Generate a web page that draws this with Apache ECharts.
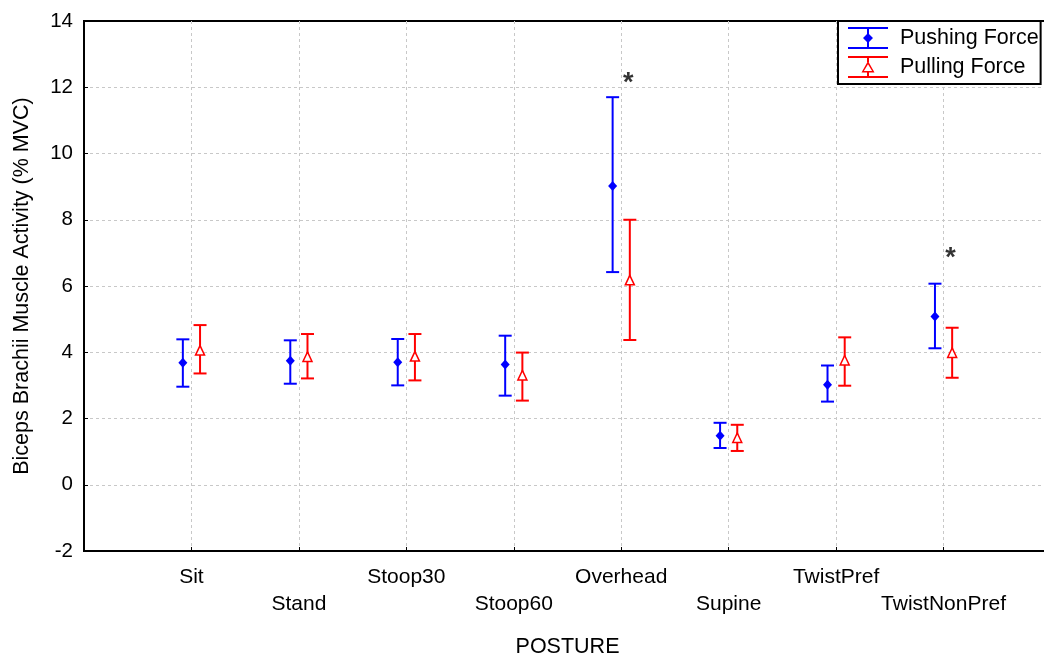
<!DOCTYPE html>
<html>
<head>
<meta charset="utf-8">
<script src="https://cdn.jsdelivr.net/npm/echarts@6/dist/echarts.min.js"></script>
<style>
  html, body { margin: 0; padding: 0; background: #fff; }
  #chart { width: 1044px; height: 656px; }
</style>
</head>
<body>
<div id="chart"></div>
<script>
  // postures along the x axis
  const categories = ['Sit', 'Stand', 'Stoop30', 'Stoop60', 'Overhead', 'Supine', 'TwistPref', 'TwistNonPref']
  // pushing force: mean and error bar ends (% MVC)
  const pushMean = [3.68, 3.74, 3.70, 3.63, 9.02, 1.48, 3.02, 5.08]
  const pushLow = [2.96, 3.05, 3.00, 2.69, 6.42, 1.11, 2.51, 4.12]
  const pushHigh = [4.39, 4.36, 4.40, 4.50, 11.70, 1.87, 3.60, 6.07]
  // pulling force
  const pullMean = [4.05, 3.86, 3.87, 3.30, 6.17, 1.41, 3.75, 3.98]
  const pullLow = [3.36, 3.21, 3.15, 2.54, 4.37, 1.02, 2.99, 3.23]
  const pullHigh = [4.82, 4.55, 4.55, 3.99, 8.00, 1.81, 4.45, 4.74]
  // significance marks
  const sigPosture = ['Overhead', 'TwistNonPref']
  const sigLevel = [12.3, 7.0]

  const FONT = "'Liberation Sans', Arial, sans-serif"

  function errorSeries (name, color, means, lows, highs, shift, marker) {
    return {
      name: name,
      type: 'custom',
      color: color,
      encode: { x: 0, y: [1, 2, 3] },
      data: categories.map((c, i) => [i + 1 + shift, lows[i], highs[i], means[i]]),
      renderItem: function (params, api) {
        var x = api.value(0)
        var lo = api.coord([x, api.value(1)])
        var hi = api.coord([x, api.value(2)])
        var m = api.coord([x, api.value(3)])
        var cap = 6.5
        var st = { stroke: color, lineWidth: 2 }
        var children = [
          { type: 'line', shape: { x1: lo[0], y1: lo[1], x2: hi[0], y2: hi[1] }, style: st },
          { type: 'line', shape: { x1: lo[0] - cap, y1: lo[1], x2: lo[0] + cap, y2: lo[1] }, style: st },
          { type: 'line', shape: { x1: hi[0] - cap, y1: hi[1], x2: hi[0] + cap, y2: hi[1] }, style: st }
        ]
        if (marker === 'diamond') {
          children.push({
            type: 'polygon',
            shape: { points: [[m[0], m[1] - 5], [m[0] + 4.5, m[1]], [m[0], m[1] + 5], [m[0] - 4.5, m[1]]] },
            style: { fill: color }
          })
        } else {
          children.push({
            type: 'polygon',
            shape: { points: [[m[0], m[1] - 5], [m[0] + 4.5, m[1] + 4.5], [m[0] - 4.5, m[1] + 4.5]] },
            style: { fill: '#fff', stroke: color, lineWidth: 1.5 }
          })
        }
        return { type: 'group', children: children }
      },
      z: 3
    }
  }

  var pushIcon = 'path://M0 0H40V2H0ZM0 20H40V22H0ZM19 0H21V22H19ZM20 6L25 11L20 16L15 11Z'
  var pullIcon = 'path://M0 0H40V2H0ZM0 20H40V22H0ZM19 0H21V6H19ZM19 16H21V22H19ZM20 5L26.5 16.5L13.5 16.5ZM20 8.2L15.9 15L24.1 15Z'

  var option = {
    animation: false,
    textStyle: { fontFamily: FONT },
    grid: {
      left: 84, top: 21, width: 967, height: 530,
      outerBoundsMode: 'none',
      containLabel: false,
      show: true, borderColor: '#000', borderWidth: 2
    },
    legend: {
      left: 838,
      top: 21,
      orient: 'vertical',
      itemWidth: 40,
      itemHeight: 22,
      itemGap: 7,
      padding: [6, 2, 6, 10],
      backgroundColor: '#fff',
      borderColor: '#000',
      borderWidth: 2,
      borderRadius: 0,
      textStyle: { fontSize: 21.5, color: '#000', fontFamily: FONT, padding: [0, 0, 0, 7] },
      data: [
        { name: 'Pushing Force', icon: pushIcon },
        { name: 'Pulling Force', icon: pullIcon }
      ]
    },
    xAxis: {
      type: 'value',
      min: 0,
      max: 9,
      interval: 1,
      name: 'POSTURE',
      nameLocation: 'middle',
      nameGap: 85,
      nameTextStyle: { fontSize: 21.5, color: '#000', fontFamily: FONT },
      axisLine: { onZero: false, lineStyle: { color: '#000', width: 2 } },
      axisTick: { inside: true, length: 4, lineStyle: { color: '#000' } },
      axisLabel: {
        fontSize: 21,
        color: '#000',
        fontFamily: FONT,
        lineHeight: 27,
        margin: 13,
        formatter: function (v) {
          var i = Math.round(v) - 1
          if (i < 0 || i >= categories.length) return ''
          return i % 2 === 0 ? categories[i] : '\n' + categories[i]
        }
      },
      splitLine: { show: true, showMinLine: false, lineStyle: { color: '#c8c8c8', type: [3, 3] } }
    },
    yAxis: {
      type: 'value',
      min: -2,
      max: 14,
      interval: 2,
      name: 'Biceps Brachii Muscle Activity (% MVC)',
      nameLocation: 'middle',
      nameGap: 51,
      nameTextStyle: { fontSize: 21.5, color: '#000', fontFamily: FONT },
      axisLine: { show: true, lineStyle: { color: '#000', width: 2 } },
      axisTick: { show: true, inside: true, length: 4, lineStyle: { color: '#000' } },
      axisLabel: { fontSize: 20.5, color: '#000', fontFamily: FONT, margin: 11 },
      splitLine: { show: true, showMinLine: false, showMaxLine: false, lineStyle: { color: '#c8c8c8', type: [3, 3] } }
    },
    series: [
      errorSeries('Pushing Force', '#0000ff', pushMean, pushLow, pushHigh, -0.08, 'diamond'),
      errorSeries('Pulling Force', '#ff0000', pullMean, pullLow, pullHigh, 0.08, 'triangle'),
      {
        name: 'sig',
        type: 'scatter',
        symbolSize: 0,
        data: sigPosture.map((p, i) => [categories.indexOf(p) + 1, sigLevel[i]]),
        label: {
          show: true,
          position: 'inside',
          offset: [7, 6],
          formatter: '*',
          fontSize: 27,
          fontWeight: 'bold',
          color: '#000',
          fontFamily: FONT
        },
        silent: true
      }
    ]
  }

  var chart = echarts.init(document.getElementById('chart'))
  chart.setOption(option)
</script>
</body>
</html>
